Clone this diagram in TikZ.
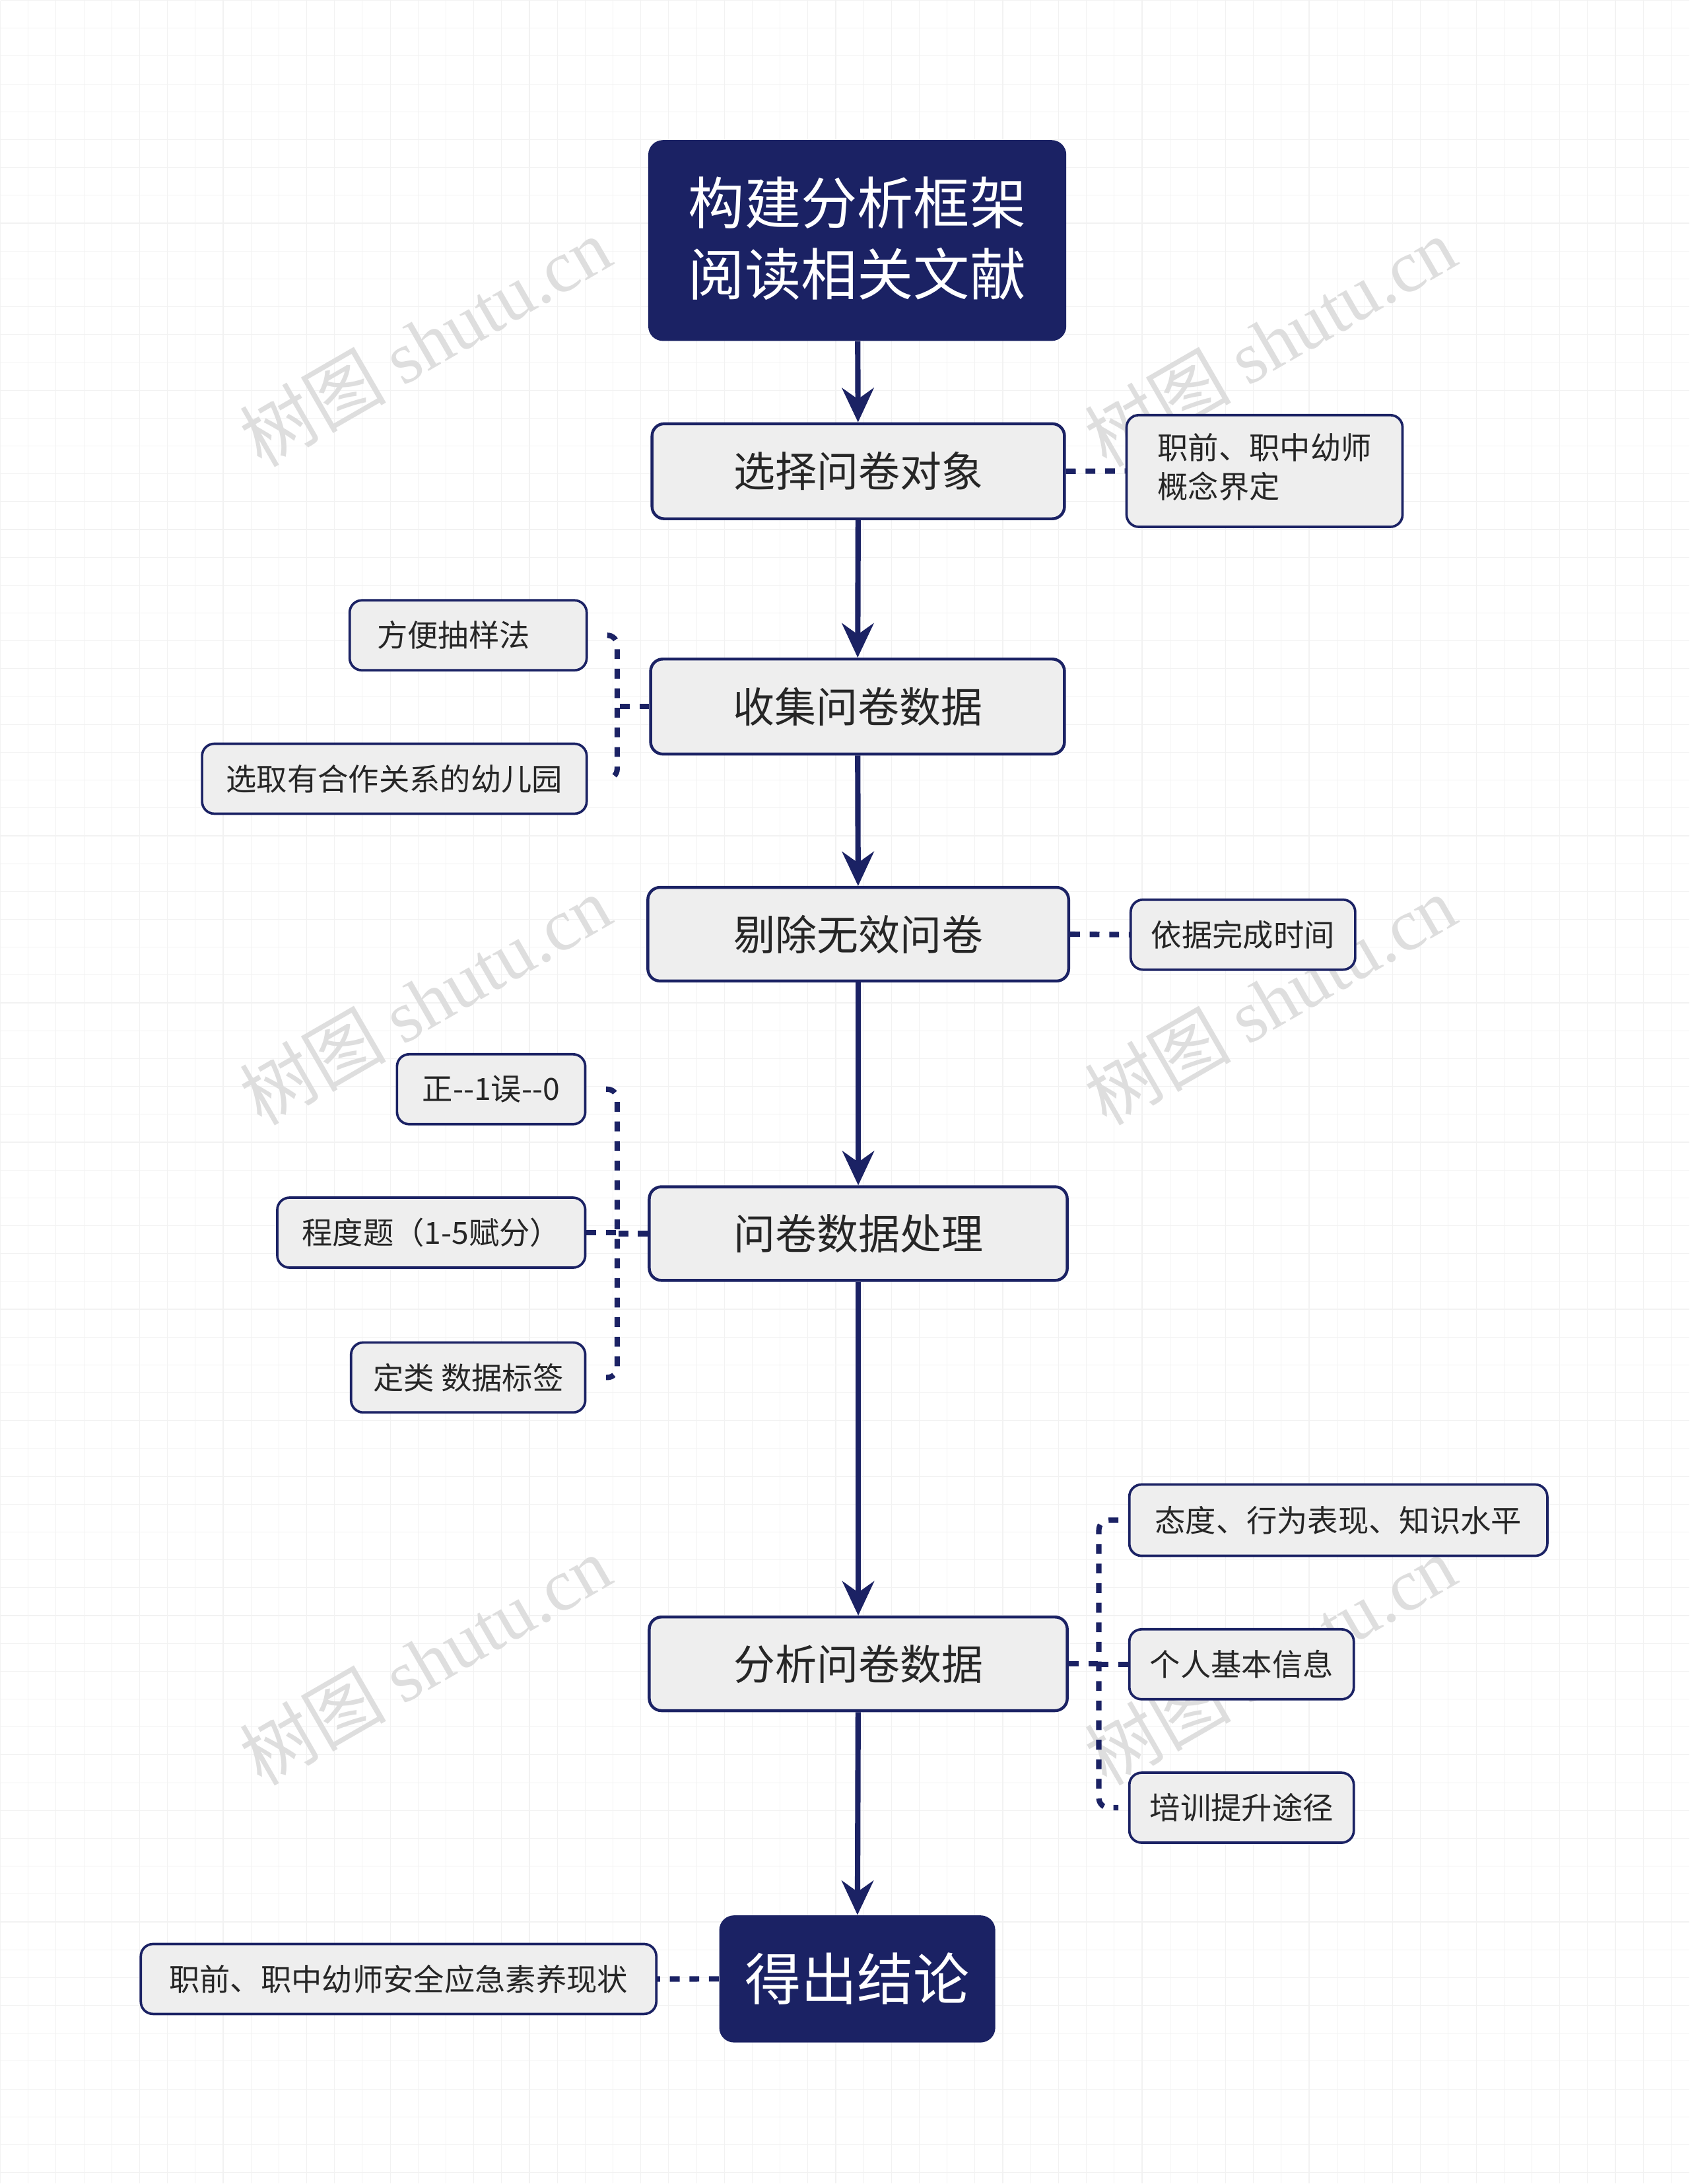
\documentclass[tikz,border=0pt]{standalone}
\usepackage{fontspec}
\setmainfont{Noto Sans CJK SC}
\newfontfamily\wmfont{Noto Sans CJK SC}
\usetikzlibrary{arrows.meta}
\definecolor{navy}{HTML}{1B2264}
\definecolor{boxfill}{HTML}{EEEEEE}
\tikzset{x=0.02cm,y=-0.02cm,
 mainbox/.style={draw=navy,line width=1.2pt,fill=boxfill,rounded corners=5pt,text=black!85,font=\fontsize{17}{20}\selectfont,inner sep=0pt},
 darkbox/.style={fill=navy,rounded corners=6pt,text=white,inner sep=0pt},
 subbox/.style={draw=navy,line width=1pt,fill=boxfill,rounded corners=5pt,text=black!85,font=\fontsize{12.5}{16}\selectfont,inner sep=0pt},
 arr/.style={draw=navy,line width=2.2pt,-{Stealth[length=14pt,width=13pt]}},
 dl/.style={draw=navy,line width=2.2pt,dash pattern=on 4pt off 4pt,rounded corners=4pt},
 wm/.style={text=black!13,font=\fontsize{30}{30}\selectfont,rotate=30}}
\newcommand{\bx}[6]{\node[#1,minimum width=#4*0.02cm-1pt,minimum height=#5*0.02cm-1pt,anchor=north west] (#2) at (#3) {#6};}
\begin{document}
\begin{tikzpicture}
\fill[white] (0,0) rectangle (1213,1568);
\foreach \i in {0,20,...,1213} \draw[black!5,line width=0.3pt] (\i,0) -- (\i,1568);
\foreach \i in {0,20,...,1568} \draw[black!5,line width=0.3pt] (0,\i) -- (1213,\i);
\foreach \p in {(305,245),(912,245),(305,718),(912,718),(305,1192),(912,1192)}
  \node[wm] at \p {{\wmfont 树图} {\fontspec{Liberation Serif}shutu.cn}};
\bx{darkbox}{t}{465,100}{302}{146}{\begin{tabular}{c}\fontsize{23}{30}\selectfont 构建分析框架\\[6pt]\fontsize{23}{30}\selectfont 阅读相关文献\end{tabular}}
\bx{mainbox}{a}{467,303}{298}{70}{选择问卷对象}
\bx{subbox}{a1}{808,297}{200}{82}{\begin{tabular}{@{}l@{}}职前、职中幼师\\概念界定\end{tabular}}
\bx{mainbox}{b}{466,472}{299}{70}{收集问卷数据}
\bx{subbox}{b1}{250,430}{172}{52}{方便抽样法\hspace*{12pt}}
\bx{subbox}{b2}{144,533}{278}{52}{选取有合作关系的幼儿园}
\bx{mainbox}{c}{464,636}{304}{69}{剔除无效问卷}
\bx{subbox}{c1}{811,645}{163}{52}{依据完成时间}
\bx{mainbox}{d}{465,851}{302}{69}{问卷数据处理}
\bx{subbox}{d1}{284,756}{137}{52}{正-{}-1误-{}-0}
\bx{subbox}{d2}{198,859}{223}{52}{程度题（1-5赋分）}
\bx{subbox}{d3}{251,963}{170}{52}{定类 数据标签}
\bx{mainbox}{e}{465,1160}{302}{69}{分析问卷数据}
\bx{subbox}{e1}{810,1065}{302}{53}{态度、行为表现、知识水平}
\bx{subbox}{e2}{810,1169}{163}{52}{个人基本信息}
\bx{subbox}{e3}{810,1272}{163}{52}{培训提升途径}
\bx{darkbox}{f}{516,1375}{200}{93}{\fontsize{23}{26}\selectfont 得出结论}
\bx{subbox}{f1}{100,1395}{372}{52}{职前、职中幼师安全应急素养现状}
\draw[arr] (t) -- (a);
\draw[arr] (a) -- (b);
\draw[arr] (b) -- (c);
\draw[arr] (c) -- (d);
\draw[arr] (d) -- (e);
\draw[arr] (e) -- (f);
\draw[dl] (a.east) -- (a1.west);
\draw[dl] (c.east) -- (c1.west);
\draw[dl] (f.west) -- (f1.east);
\coordinate (bx) at (443,0);
\draw[dl] (b.west) -- (b.west -| bx);
\draw[dl] ([xshift=8pt]b1.east) -- (b1.east -| bx) -- (b2.east -| bx) -- ([xshift=8pt]b2.east);
\draw[dl] (d.west) -- (d.west -| bx);
\draw[dl] (d2.east) -- (d2.east -| bx);
\draw[dl] ([xshift=8pt]d1.east) -- (d1.east -| bx) -- (d3.east -| bx) -- ([xshift=8pt]d3.east);
\coordinate (ex) at (789,0);
\draw[dl] (e.east) -- (e.east -| ex);
\draw[dl] (e2.west) -- (e2.west -| ex);
\draw[dl] ([xshift=-4pt]e1.west) -- (e1.west -| ex) -- (e3.west -| ex) -- ([xshift=-4pt]e3.west);
\end{tikzpicture}
\end{document}
